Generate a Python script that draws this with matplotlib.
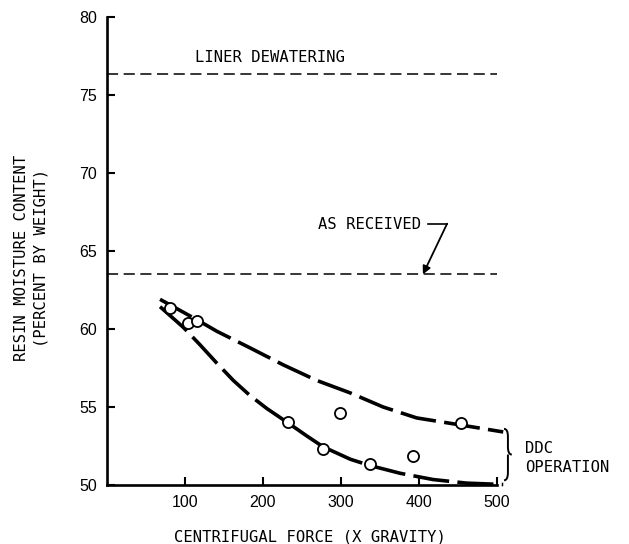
import matplotlib
matplotlib.use("Agg")
import matplotlib.pyplot as plt
from matplotlib.path import Path
from matplotlib.patches import PathPatch

plt.rcParams['lines.scale_dashes'] = False

# ---- data ----
points_x = [81, 104, 115, 232, 277, 299, 337, 392, 454]
points_y = [61.33, 60.36, 60.53, 54.06, 52.3, 54.6, 51.35, 51.86, 53.95]

upper_x = [68, 115, 141, 183, 226, 269, 312, 354, 397, 453, 508]
upper_y = [61.9, 60.6, 59.85, 58.8, 57.7, 56.7, 55.9, 55.0, 54.3, 53.85, 53.4]

lower_x = [68, 98, 119, 141, 162, 183, 205, 233, 256, 277, 312, 337, 376, 418, 461, 508]
lower_y = [61.43, 60.1, 59.0, 57.8, 56.7, 55.75, 54.9, 53.95, 53.15, 52.45,
           51.65, 51.25, 50.75, 50.35, 50.12, 50.03]

liner_dewatering = 76.35
as_received = 63.5

x_ticks = [100, 200, 300, 400, 500]
y_ticks = [50, 55, 60, 65, 70, 75, 80]

mono = 'DejaVu Sans Mono'

fig = plt.figure(figsize=(6.29, 5.44), dpi=100)
ax = fig.add_axes([107/629, 1-485/544, 390/629, 468/544])
ax.set_xlim(0, 500)
ax.set_ylim(50, 80)

for s in ['top', 'right']:
    ax.spines[s].set_visible(False)
for s in ['left', 'bottom']:
    ax.spines[s].set_linewidth(1.9)
    ax.spines[s].set_color('black')

ax.set_xticks(x_ticks)
ax.set_yticks(y_ticks)
ax.tick_params(direction='in', length=6, width=1.5, labelsize=11.5, pad=7)
for lab in ax.get_xticklabels() + ax.get_yticklabels():
    lab.set_fontfamily('Liberation Sans')

# horizontal reference lines
for yv in (liner_dewatering, as_received):
    ax.plot([0, 500], [yv, yv], color='black', lw=1.1,
            dashes=(8, 4), clip_on=False)

ax.text(113, 77.4, 'LINER DEWATERING', family=mono, fontsize=11.2,
        va='center', ha='left')
ax.text(270, 66.7, 'AS RECEIVED', family=mono, fontsize=11.2,
        va='center', ha='left')
# leader and arrow for AS RECEIVED
ax.plot([411, 436], [66.75, 66.75], color='black', lw=1.2)
ax.annotate('', xy=(405, as_received), xytext=(436, 66.75),
            arrowprops=dict(arrowstyle='-|>', color='black', lw=1.3,
                            mutation_scale=12, shrinkA=0, shrinkB=0))

# curves
ax.plot(upper_x, upper_y, color='black', lw=2.6, dashes=(26, 6),
        dash_capstyle='butt', dash_joinstyle='round', clip_on=False)
ax.plot(lower_x, lower_y, color='black', lw=2.6, dashes=(26, 6),
        dash_capstyle='butt', dash_joinstyle='round', clip_on=False)

ax.plot(points_x, points_y, 'o', ms=8, mfc='white', mec='black', mew=1.3,
        clip_on=False, zorder=5)

# brace
x0, w = 509, 10
yt, yb = 53.6, 50.3
ym = (yt + yb) / 2
r = 0.5
verts = [(x0, yt), (x0 + w/2, yt), (x0 + w/2, yt - r),
         (x0 + w/2, ym + r),
         (x0 + w/2, ym), (x0 + w, ym),
         (x0 + w/2, ym), (x0 + w/2, ym - r),
         (x0 + w/2, yb + r),
         (x0 + w/2, yb), (x0, yb)]
codes = [Path.MOVETO, Path.CURVE3, Path.CURVE3,
         Path.LINETO,
         Path.CURVE3, Path.CURVE3,
         Path.MOVETO, Path.CURVE3,
         Path.LINETO,
         Path.CURVE3, Path.CURVE3]
brace = PathPatch(Path(verts, codes), fill=False, lw=1.4, color='black',
                  clip_on=False)
ax.add_patch(brace)
ax.text(536, 52.35, 'DDC', family=mono, fontsize=11.2, va='center', ha='left')
ax.text(536, 51.15, 'OPERATION', family=mono, fontsize=11.2, va='center', ha='left')

# axis labels
fig.text(310/629, 1-537/544, 'CENTRIFUGAL FORCE (X GRAVITY)', family=mono,
         fontsize=11.2, ha='center', va='center')
fig.text(22/629, 1-258/544, 'RESIN MOISTURE CONTENT', family=mono,
         fontsize=11.2, ha='center', va='center', rotation=90)
fig.text(41/629, 1-258/544, '(PERCENT BY WEIGHT)', family=mono,
         fontsize=11.2, ha='center', va='center', rotation=90)

fig.savefig('out.png', dpi=100, facecolor='white')
